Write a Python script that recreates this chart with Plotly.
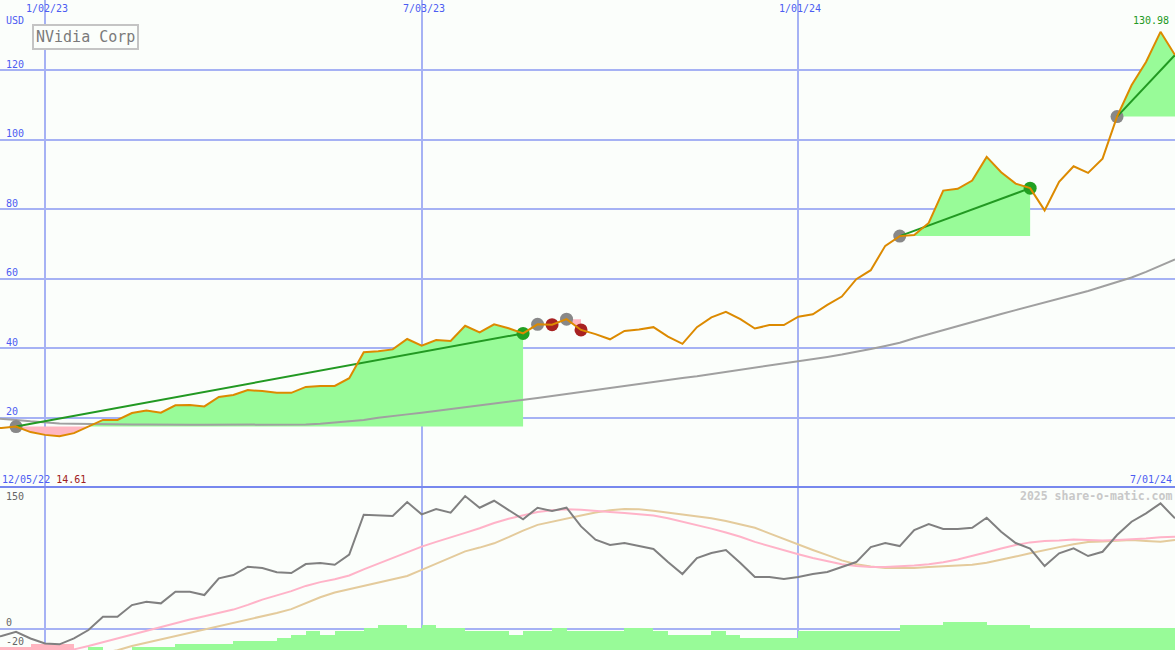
import plotly.graph_objects as go
import pandas as pd

# ---------------- data ----------------
week_start = '2022-12-05'
week_end = '2024-07-01'
dates = pd.date_range(week_start, week_end, freq='7D')  # weekly points

price = [16.9, 17.0, 17.4, 15.8, 15.0, 14.61, 15.5, 17.3, 19.3, 19.3,
         21.3, 22.0, 21.4, 23.5, 23.6, 23.2, 25.9, 26.5, 27.9, 27.6,
         27.1, 27.1, 28.8, 29.1, 29.1, 31.3, 38.8, 39.1, 39.6, 42.6,
         40.7, 42.3, 42.0, 46.4, 44.5, 46.8, 45.7, 44.2, 46.8, 46.7,
         48.3, 45.2, 44.0, 42.5, 44.9, 45.3, 46.0, 43.3, 41.2, 46.0,
         48.8, 50.4, 48.3, 45.6, 46.6, 46.6, 49.0, 49.7, 52.4, 54.8,
         59.8, 62.4, 69.4, 72.2, 72.5, 76.0, 85.3, 85.8, 88.2, 95.0,
         90.6, 87.3, 86.0, 79.6, 87.8, 92.3, 90.4, 94.5, 106.6, 115.6,
         122.3, 130.98, 124.3]

ma40 = [19.9, 19.7, 19.3, 18.9, 18.5, 18.3, 18.2, 18.1, 18.0, 18.0,
        18.0, 18.0, 17.9, 17.9, 17.9, 17.9, 17.9, 17.9, 17.9, 17.9,
        17.9, 17.9, 18.0, 18.2, 18.5, 18.8, 19.3, 19.9, 20.3, 20.9,
        21.4, 21.9, 22.4, 23.0, 23.6, 24.1, 24.6, 25.0, 25.6, 26.2,
        26.8, 27.3, 27.8, 28.4, 29.0, 29.6, 30.2, 30.8, 31.4, 31.9,
        32.5, 33.1, 33.8, 34.2, 34.8, 35.4, 36.0, 36.7, 37.4, 38.1,
        38.8, 39.7, 40.6, 41.5, 42.8, 44.0, 45.2, 46.4, 47.6, 48.7,
        49.8, 50.9, 52.0, 53.0, 54.0, 55.1, 56.4, 57.7, 58.9, 60.3,
        61.9, 63.6, 65.5]

osc = [-9.0, -7.4, -2.9, -10.0, -15.3, -16.2, -10.0, -1.1, 13.0, 13.0,
       25.3, 28.8, 27.1, 39.4, 39.4, 35.9, 53.5, 57.0, 65.8, 64.4,
       59.9, 59.1, 68.6, 69.7, 67.9, 78.5, 120.7, 120.0, 119.3, 134.1,
       121.1, 126.7, 122.8, 140.4, 128.1, 135.5, 126.0, 115.8, 128.1, 124.6,
       128.1, 108.4, 94.3, 88.7, 90.8, 87.6, 84.5, 70.7, 58.1, 75.0,
       80.3, 83.4, 69.7, 54.9, 54.9, 52.8, 54.9, 58.1, 60.2, 65.5,
       70.7, 86.6, 90.8, 87.6, 104.5, 110.9, 105.6, 105.6, 107.0, 117.5,
       102.7, 90.8, 85.0, 66.5, 79.9, 85.2, 77.1, 81.6, 99.3, 113.3,
       122.2, 132.7, 116.9]

osc_fast = [-36, -34, -32, -29, -27, -24, -21.5, -18, -14, -10,
            -6, -2, 2.5, 6.5, 10, 13.5, 17, 20.5, 25.5, 31,
            35.5, 40, 45.5, 49.5, 52.5, 56.5, 63, 69, 75, 81.5,
            87, 92, 96.5, 101.5, 106.5, 112, 116.5, 120, 123.5, 125.5,
            126.5, 126, 124.5, 123.5, 122.5, 121.5, 120, 117, 113.5, 110,
            106, 102, 97.5, 92, 87.5, 83, 79, 75, 71.5, 68.5,
            66.5, 65.5, 65.5, 66, 67, 68.5, 70.5, 73.5, 77, 81,
            85, 88.7, 91.5, 93, 93.5, 94.5, 94, 93.5, 94, 94.5,
            95.5, 97, 97.5]

osc_slow = [-48, -45, -42, -39, -36, -33, -31, -28, -25, -22.5,
            -18, -14.5, -11, -7.5, -4, -0.2, 3, 6.5, 10, 13,
            17, 21, 27.5, 33.5, 38.5, 42, 45.5, 49, 52.5, 56,
            62.5, 69, 75.5, 82, 86, 90.5, 97, 104, 110, 113.5,
            116.5, 120, 123, 125.5, 126.7, 126.5, 125, 123, 121, 119.5,
            117, 114, 110.5, 107, 101, 95, 89, 83.5, 78, 72.5,
            68.5, 66, 64.5, 64.4, 64.5, 65.5, 66.3, 67, 68, 70,
            73, 76.5, 80, 83.5, 86.5, 89.5, 91.8, 92.3, 93, 94,
            93, 92.2, 94]

vol_level = [-1, -1, -1, -2, -2, -2, 0, 1, 0, 0,
             1, 1, 1, 2, 2, 2, 2, 3, 3, 3,
             4, 5, 6, 5, 6, 6, 7, 8, 8, 7,
             8, 7, 7, 6, 6, 6, 5, 6, 6, 7,
             6, 6, 6, 6, 7, 7, 6, 5, 5, 5,
             6, 5, 4, 4, 4, 4, 6, 6, 6, 6,
             6, 6, 6, 8, 8, 8, 9, 9, 9, 8,
             8, 8, 7, 7, 7, 7, 7, 7, 7, 7,
             7, 7, 7]

trade_entry = ['2022-12-19', '2023-08-28', '2023-09-11', '2024-02-19', '2024-06-03']
trade_exit = ['2023-08-21', '2023-09-04', '2023-09-18', '2024-04-22', None]

grid_dates = ['2023-01-02', '2023-07-03', '2024-01-01']
grid_labels = ['1/02/23', '7/03/23', '1/01/24']
price_ticks = [20, 40, 60, 80, 100, 120]
osc_tick_labels = ['150', '0', '-20']

title_text = 'NVidia Corp'
start_label = '12/05/22'
low_label = '14.61'
end_label = '7/01/24'
high_label = '130.98'
credit = '2025 share-o-matic.com'

# ---------------- styling ----------------
W, H = 1175, 650
DIV = 487
split = (H - DIV) / H
BG = '#fbfefb'
GRID = '#a6b2f4'
BLUE = '#4c5cf2'
GREEN_FILL = '#98fb98'
PINK_FILL = '#ffb6c1'
FONT = 'DejaVu Sans Mono'

x_range = ['2022-12-11 06:10', '2024-07-01 00:00']
price_range = [0, DIV / 3.475]
osc_range = [-21.0 / 0.9467, 150]
vol_range = [0, (H - DIV) / 3.1]

s = pd.Series(price, index=dates)


def band(xs, ys, level, above):
    px, py = [xs[0]], [level]
    for i in range(len(xs)):
        if i > 0:
            y0, y1 = ys[i - 1], ys[i]
            if (y0 - level) * (y1 - level) < 0:
                t = (level - y0) / (y1 - y0)
                px.append(xs[i - 1] + (xs[i] - xs[i - 1]) * t)
                py.append(level)
        px.append(xs[i])
        py.append(max(ys[i], level) if above else min(ys[i], level))
    px += [xs[-1], xs[0]]
    py += [level, level]
    return px, py


fig = go.Figure()

# trade fills
for en, ex in zip(trade_entry, trade_exit):
    end = pd.Timestamp(ex) if ex else dates[-1]
    seg = s.loc[pd.Timestamp(en):end]
    xs = list(seg.index)
    ys = list(seg.values)
    lvl = ys[0]
    if max(ys) > lvl:
        bx, by = band(xs, ys, lvl, True)
        fig.add_trace(go.Scatter(x=bx, y=by, fill='toself', fillcolor=GREEN_FILL,
                                 mode='lines', line=dict(width=0), hoverinfo='skip',
                                 xaxis='x', yaxis='y'))
    if min(ys) < lvl:
        bx, by = band(xs, ys, lvl, False)
        fig.add_trace(go.Scatter(x=bx, y=by, fill='toself', fillcolor=PINK_FILL,
                                 mode='lines', line=dict(width=0), hoverinfo='skip',
                                 xaxis='x', yaxis='y'))

# moving average
fig.add_trace(go.Scatter(x=dates, y=ma40, mode='lines',
                         line=dict(color='#a0a0a0', width=2), hoverinfo='skip',
                         xaxis='x', yaxis='y'))

# markers
ent_x = [pd.Timestamp(d) for d in trade_entry]
ent_y = [s[d] for d in ent_x]
fig.add_trace(go.Scatter(x=ent_x, y=ent_y, mode='markers',
                         marker=dict(color='#888888', size=13, line=dict(width=0)),
                         hoverinfo='skip', xaxis='x', yaxis='y'))
ex_x, ex_y, ex_c = [], [], []
for en, ex in zip(trade_entry, trade_exit):
    if ex:
        p0 = s[pd.Timestamp(en)]
        p1 = s[pd.Timestamp(ex)]
        ex_x.append(pd.Timestamp(ex))
        ex_y.append(p1)
        ex_c.append('#22a022' if p1 > p0 else '#a82222')
fig.add_trace(go.Scatter(x=ex_x, y=ex_y, mode='markers',
                         marker=dict(color=ex_c, size=13, line=dict(width=0)),
                         hoverinfo='skip', xaxis='x', yaxis='y'))

# winning / open trade lines
for en, ex in zip(trade_entry, trade_exit):
    t0 = pd.Timestamp(en)
    t1 = pd.Timestamp(ex) if ex else dates[-1]
    if s[t1] > s[t0]:
        fig.add_trace(go.Scatter(x=[t0, t1], y=[s[t0], s[t1]], mode='lines',
                                 line=dict(color='#229922', width=2), hoverinfo='skip',
                                 xaxis='x', yaxis='y'))

# price line
fig.add_trace(go.Scatter(x=dates, y=price, mode='lines',
                         line=dict(color='#dc8a00', width=2), hoverinfo='skip',
                         xaxis='x', yaxis='y'))

# bottom: bars (base axis y2)
fig.add_trace(go.Bar(x=dates, y=[abs(v) for v in vol_level],
                     marker=dict(color=[GREEN_FILL if v >= 0 else PINK_FILL for v in vol_level],
                                 line=dict(width=0)),
                     width=7 * 24 * 3600 * 1000, offset=0, hoverinfo='skip',
                     xaxis='x2', yaxis='y2'))

# bottom: oscillator lines (overlay axis y3)
fig.add_trace(go.Scatter(x=dates, y=osc_slow, mode='lines',
                         line=dict(color='#e4cb9c', width=2), hoverinfo='skip',
                         xaxis='x2', yaxis='y3'))
fig.add_trace(go.Scatter(x=dates, y=osc_fast, mode='lines',
                         line=dict(color='#ffb3c8', width=2), hoverinfo='skip',
                         xaxis='x2', yaxis='y3'))
fig.add_trace(go.Scatter(x=dates, y=osc, mode='lines',
                         line=dict(color='#808080', width=2), hoverinfo='skip',
                         xaxis='x2', yaxis='y3'))

xcommon = dict(type='date', range=x_range, tickmode='array', tickvals=grid_dates,
               showgrid=True, gridcolor=GRID, gridwidth=2, showticklabels=False,
               zeroline=False, showline=False, ticks='')

annotations = []
# date labels on top
for d, lab in zip(grid_dates, grid_labels):
    annotations.append(dict(x=d, xref='x', y=1 - 8 / H, yref='paper', text=lab,
                            showarrow=False, xanchor='center', yanchor='middle', xshift=2,
                            font=dict(family=FONT, size=10, color=BLUE)))
# price labels
annotations.append(dict(x=4 / W, xref='paper', y=1 - 21 / H, yref='paper', text='USD',
                        showarrow=False, xanchor='left', yanchor='middle',
                        font=dict(family=FONT, size=10, color=BLUE)))
for v in price_ticks:
    annotations.append(dict(x=4 / W, xref='paper', y=v, yref='y', text=str(v),
                            showarrow=False, xanchor='left', yanchor='middle', yshift=6,
                            font=dict(family=FONT, size=10, color=BLUE)))
# title box
annotations.append(dict(x=32 / W, xref='paper', y=1 - 24 / H, yref='paper', text=title_text,
                        showarrow=False, xanchor='left', yanchor='top',
                        bordercolor='#c4c4c4', borderwidth=2, borderpad=2, bgcolor=BG,
                        font=dict(family=FONT, size=15, color='#7a7a7a')))
# start / low label
annotations.append(dict(x=0, xref='paper', y=1 - 479 / H, yref='paper',
                        text=f'<span style="color:{BLUE}">{start_label}</span> '
                             f'<span style="color:#a02020">{low_label}</span>',
                        showarrow=False, xanchor='left', yanchor='middle',
                        font=dict(family=FONT, size=10, color=BLUE)))
annotations.append(dict(x=1174 / W, xref='paper', y=1 - 479 / H, yref='paper', text=end_label,
                        showarrow=False, xanchor='right', yanchor='middle',
                        font=dict(family=FONT, size=10, color=BLUE)))
annotations.append(dict(x=1174 / W, xref='paper', y=1 - 496 / H, yref='paper',
                        text=f'<b>{credit}</b>', showarrow=False, xanchor='right',
                        yanchor='middle', font=dict(family=FONT, size=11.5, color='#c8c8c8')))
# high label
hi_i = price.index(max(price))
annotations.append(dict(x=dates[hi_i], xref='x', y=price[hi_i], yref='y', text=high_label,
                        showarrow=False, xanchor='center', yanchor='bottom', xshift=-10,
                        yshift=4, font=dict(family=FONT, size=10, color='#229922')))
# oscillator labels
osc_label_px = [496, 622.5, 641]
for lab, py in zip(osc_tick_labels, osc_label_px):
    annotations.append(dict(x=4 / W, xref='paper', y=1 - py / H, yref='paper', text=lab,
                            showarrow=False, xanchor='left', yanchor='middle',
                            font=dict(family=FONT, size=10, color='#666666')))

fig.update_layout(
    width=W, height=H,
    margin=dict(l=0, r=0, t=0, b=0),
    paper_bgcolor=BG, plot_bgcolor=BG,
    showlegend=False, hovermode=False, bargap=0,
    font=dict(family=FONT),
    xaxis=dict(domain=[0, 1], anchor='y', **xcommon),
    xaxis2=dict(domain=[0, 1], anchor='y2', matches='x', **xcommon),
    yaxis=dict(domain=[split, 1], anchor='x', range=price_range, tickmode='array',
               tickvals=price_ticks, showgrid=True, gridcolor=GRID, gridwidth=2,
               showticklabels=False, zeroline=False, showline=False, ticks=''),
    yaxis2=dict(domain=[0, split], anchor='x2', range=vol_range, showgrid=False,
                showticklabels=False, zeroline=False, showline=False, ticks=''),
    yaxis3=dict(overlaying='y2', anchor='x2', range=osc_range, tickmode='array',
                tickvals=[0], showgrid=True, gridcolor=GRID, gridwidth=2,
                showticklabels=False, zeroline=False, showline=False, ticks=''),
    shapes=[dict(type='line', xref='paper', yref='paper', x0=0, x1=1, y0=split, y1=split,
                 line=dict(color='#7788ee', width=2), layer='above')],
    annotations=annotations,
)

fig.write_html('out.html', config={'displayModeBar': False},
               post_script="document.body.style.margin='0';document.body.style.overflow='hidden';")
